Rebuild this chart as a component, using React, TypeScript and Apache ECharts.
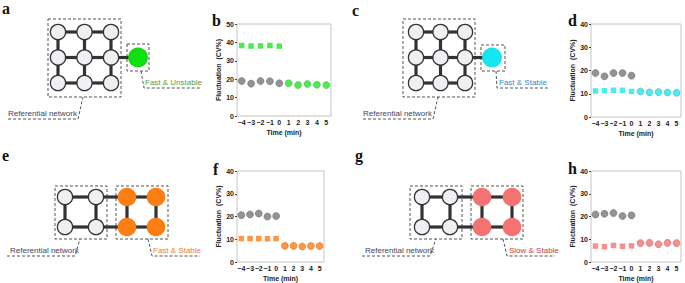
import React, { useEffect, useRef } from "react";
import * as echarts from "echarts";

// ---------- data ----------
const xTickLabels = ["\u22124", "\u22123", "\u22122", "\u22121", "0", "1", "2", "3", "4", "5"];
const beforeLabels = ["\u22124", "\u22123", "\u22122", "\u22121", "0"];
const afterLabels = ["1", "2", "3", "4", "5"];

const bRefBefore = [19.0, 17.6, 19.0, 18.9, 17.8];
const bTestBefore = [38.3, 38.0, 38.1, 38.3, 38.0];
const bTestAfter = [17.8, 16.8, 17.4, 17.0, 16.8];

const dRefBefore = [18.9, 17.5, 18.9, 18.9, 17.8];
const dTestBefore = [11.2, 11.3, 11.5, 11.5, 11.0];
const dTestAfter = [11.0, 10.6, 10.7, 10.5, 10.4];

const fRefBefore = [20.6, 20.9, 21.3, 20.0, 20.2];
const fTestBefore = [10.3, 10.3, 10.3, 10.2, 10.3];
const fTestAfter = [7.1, 7.1, 6.8, 7.0, 7.0];

const hRefBefore = [20.9, 21.2, 21.5, 20.2, 20.5];
const hTestBefore = [7.0, 6.7, 7.3, 6.9, 7.1];
const hTestAfter = [8.3, 8.4, 7.8, 8.4, 8.3];

const yMaxes = [50, 40, 40, 40];
const panelColors = ["#22e622", "#1ee6ee", "#fa7d16", "#f27474"];
const panelCircleBorders = ["#4aa84a", "#6a9a9c", "#d86a10", "#c45a5a"];
const refSets = [bRefBefore, dRefBefore, fRefBefore, hRefBefore];
const testBeforeSets = [bTestBefore, dTestBefore, fTestBefore, hTestBefore];
const testAfterSets = [bTestAfter, dTestAfter, fTestAfter, hTestAfter];

// ---------- layout ----------
const gridBoxes = [
  { left: 237, top: 24, width: 94, height: 92 },
  { left: 591, top: 24, width: 90, height: 93 },
  { left: 237, top: 171, width: 87, height: 92 },
  { left: 591, top: 171, width: 90, height: 92 },
];

const FONT = "Liberation Sans, Arial, sans-serif";
const axisText = { fontSize: 7, fontWeight: "bold" as const, color: "#222", fontFamily: FONT };
const dash = { stroke: "#555", lineWidth: 1, lineDash: [3, 2], fill: "none" };

function node(cx: number, cy: number, r: number, fill: string, stroke: string) {
  return { type: "circle", z: 3, shape: { cx, cy, r }, style: { fill, stroke, lineWidth: 1.3 } };
}
function link(x1: number, y1: number, x2: number, y2: number) {
  return { type: "line", z: 2, shape: { x1, y1, x2, y2 }, style: { stroke: "#333", lineWidth: 3.2 } };
}
function dashRect(x: number, y: number, w: number, h: number) {
  return { type: "rect", z: 1, shape: { x, y, width: w, height: h }, style: { ...dash } };
}
function dashLine(points: number[][]) {
  return { type: "polyline", z: 1, shape: { points }, style: { ...dash } };
}
function label(text: string, x: number, y: number, fill: string) {
  return {
    type: "text",
    z: 4,
    x,
    y,
    style: { text, fill, fontSize: 8, fontFamily: FONT, textAlign: "left", textVerticalAlign: "middle" },
  };
}
function letter(text: string, x: number, y: number) {
  return {
    type: "text",
    z: 4,
    x,
    y,
    style: {
      text,
      fill: "#111",
      fontSize: 16,
      fontWeight: "bold",
      fontFamily: "Liberation Serif, Times New Roman, serif",
      textAlign: "left",
      textVerticalAlign: "top",
    },
  };
}

const WHITE = "#eef0f4";
const DARK = "#333";
const REF_TXT = "#3d4460";

function grid3(xs: number[], ys: number[]) {
  const els: any[] = [];
  ys.forEach((y) => {
    for (let i = 0; i < xs.length - 1; i++) els.push(link(xs[i], y, xs[i + 1], y));
  });
  xs.forEach((x) => {
    for (let j = 0; j < ys.length - 1; j++) els.push(link(x, ys[j], x, ys[j + 1]));
  });
  ys.forEach((y) => xs.forEach((x) => els.push(node(x, y, 7.6, WHITE, DARK))));
  return els;
}

function ladder(refXs: number[], testXs: number[], ys: number[], testColor: string) {
  const xs = [...refXs, ...testXs];
  const els: any[] = [];
  ys.forEach((y) => {
    for (let i = 0; i < xs.length - 1; i++) els.push(link(xs[i], y, xs[i + 1], y));
  });
  xs.forEach((x) => els.push(link(x, ys[0], x, ys[1])));
  ys.forEach((y) => refXs.forEach((x) => els.push(node(x, y, 7.6, WHITE, DARK))));
  ys.forEach((y) => testXs.forEach((x) => els.push(node(x, y, 8.6, testColor, testColor))));
  return els;
}

function buildGraphics() {
  const g: any[] = [];
  // panel letters
  g.push(letter("a", 2, 0), letter("b", 212, 12), letter("c", 352, 2), letter("d", 568, 12));
  g.push(letter("e", 2, 147), letter("f", 213, 161), letter("g", 355, 147), letter("h", 568, 160));

  // panel a
  g.push(...grid3([58, 84.5, 111], [32, 57.5, 83]));
  g.push(link(111, 57.5, 138, 57.5), node(138, 57.5, 9.2, "#10e010", "#10d010"));
  g.push(dashRect(48, 19, 73, 78), dashRect(127, 44, 22, 27));
  g.push(label("Referential network", 8, 113, REF_TXT), dashLine([[8, 119], [78, 119], [83, 97]]));
  g.push(label("Fast & Unstable", 145, 82, "#5a9e3a"), dashLine([[141, 71], [144, 88], [200, 88]]));

  // panel c
  g.push(...grid3([416, 440.5, 465], [32, 57.5, 83]));
  g.push(link(465, 57.5, 492, 57.5), node(492, 57.5, 9.2, "#12e6f0", "#12e0ea"));
  g.push(dashRect(403, 19, 72, 78), dashRect(481, 45, 24, 26));
  g.push(label("Referential network", 363, 113, REF_TXT), dashLine([[363, 119], [433, 119], [438, 97]]));
  g.push(label("Fast & Stable", 499, 82, "#3f86c8"), dashLine([[496, 71], [497, 88], [550, 88]]));

  // panel e
  g.push(...ladder([65, 96], [127, 156], [197, 227], "#fd7e12"));
  g.push(dashRect(55, 186, 52, 53), dashRect(116, 186, 52, 53));
  g.push(label("Referential network", 10, 250, REF_TXT), dashLine([[7, 256], [75, 256], [80, 239]]));
  g.push(label("Fast & Stable", 153, 250, "#e8803a"), dashLine([[148, 239], [152, 256], [200, 256]]));

  // panel g
  g.push(...ladder([422, 450], [482, 512], [197, 227], "#f47272"));
  g.push(dashRect(410, 186, 52, 53), dashRect(471, 186, 52, 53));
  g.push(label("Referential network", 365, 250, REF_TXT), dashLine([[362, 256], [430, 256], [436, 239]]));
  g.push(label("Slow & Stable", 509, 250, "#c83c3c"), dashLine([[503, 239], [507, 256], [555, 256]]));
  return g;
}

function buildOption() {
  const series: any[] = [];
  for (let i = 0; i < 4; i++) {
    series.push({
      type: "scatter",
      xAxisIndex: i,
      yAxisIndex: i,
      symbol: "circle",
      symbolSize: 7,
      itemStyle: { color: "#787878", borderColor: "#5e5e5e", borderWidth: 0.6 },
      data: refSets[i].map((v, k) => [beforeLabels[k], v]),
    });
    series.push({
      type: "scatter",
      xAxisIndex: i,
      yAxisIndex: i,
      symbol: "rect",
      symbolSize: 5.5,
      itemStyle: { color: panelColors[i] },
      data: testBeforeSets[i].map((v, k) => [beforeLabels[k], v]),
    });
    series.push({
      type: "scatter",
      xAxisIndex: i,
      yAxisIndex: i,
      symbol: "circle",
      symbolSize: 7,
      itemStyle: { color: panelColors[i], borderColor: panelCircleBorders[i], borderWidth: 0.6 },
      data: testAfterSets[i].map((v, k) => [afterLabels[k], v]),
    });
  }
  return {
    animation: false,
    textStyle: { fontFamily: FONT },
    grid: gridBoxes.map((b) => ({
      ...b,
      show: true,
      borderColor: "#c4c4c4",
      borderWidth: 1,
      backgroundColor: "transparent",
    })),
    xAxis: gridBoxes.map((_, i) => ({
      type: "category",
      gridIndex: i,
      data: xTickLabels,
      boundaryGap: true,
      axisLine: { show: false },
      axisTick: { show: false },
      splitLine: { show: false },
      axisLabel: { ...axisText, interval: 0, margin: 3, hideOverlap: false },
      name: "Time (min)",
      nameLocation: "middle",
      nameGap: 13,
      nameTextStyle: { ...axisText },
    })),
    yAxis: gridBoxes.map((_, i) => ({
      type: "value",
      gridIndex: i,
      min: 0,
      max: yMaxes[i],
      interval: 10,
      axisLine: { show: false },
      axisTick: { show: true, length: 2, lineStyle: { color: "#444" } },
      splitLine: { show: false },
      axisLabel: { ...axisText, margin: 3 },
      name: "Fluctuation  (CV%)",
      nameLocation: "middle",
      nameGap: 13,
      nameTextStyle: { ...axisText },
    })),
    series,
    graphic: buildGraphics(),
  };
}

export default function App() {
  const ref = useRef<HTMLDivElement>(null);
  useEffect(() => {
    if (!ref.current) return;
    const chart = echarts.init(ref.current, undefined, { renderer: "svg" });
    chart.setOption(buildOption() as any);
    return () => chart.dispose();
  }, []);
  return (
    <div
      ref={ref}
      style={{ position: "fixed", left: 0, top: 0, width: 685, height: 283, background: "#fff" }}
    />
  );
}
